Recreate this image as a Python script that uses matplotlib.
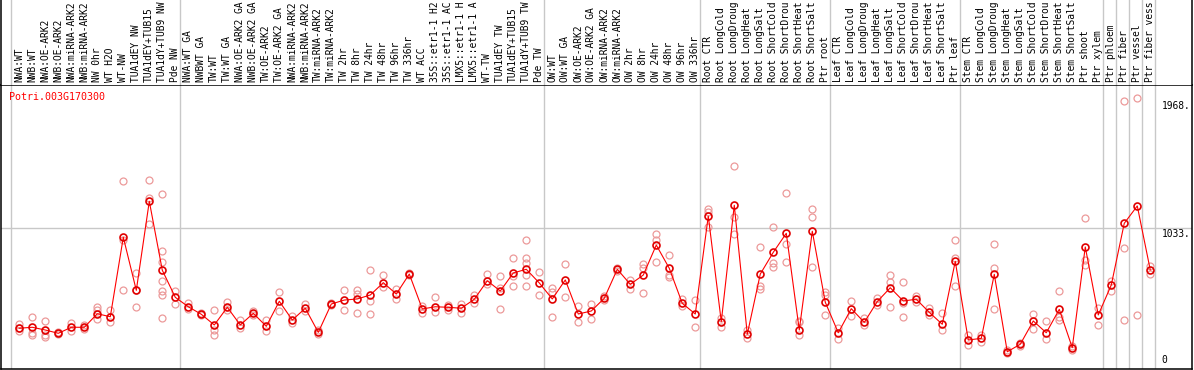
import matplotlib.pyplot as plt
import numpy as np

# sample labels (top strip), as far as they are visible
labels = [
    "NWA:WT", "NWB:WT", "NWA:OE-ARK2", "NWB:OE-ARK2", "NWA:miRNA-ARK2", "NWB:miRNA-ARK2",
    "NW 0hr", "WT H2O", "WT-NW", "TUA1dEY NW", "TUA1dEY+TUB15", "TUA1dY+TUB9 NW", "Pde NW",
    "NWA:WT GA", "NWBWT GA", "TW:WT", "TW:WT GA", "NWA:OE-ARK2 GA", "NWB:OE-ARK2 GA",
    "TW:OE-ARK2", "TW:OE-ARK2 GA", "NWA:miRNA-ARK2", "NWB:miRNA-ARK2", "TW:miRNA-ARK2",
    "TW:miRNA-ARK2", "TW 2hr", "TW 8hr", "TW 24hr", "TW 48hr", "TW 96hr", "TW 336hr",
    "WT ACC", "35S::etr1-1 H2", "35S::etr1-1 AC", "LMX5::etr1-1 H", "LMX5::etr1-1 A",
    "WT-TW", "TUA1dEY TW", "TUA1dEY+TUB15", "TUA1dY+TUB9 TW", "Pde TW",
    "OW:WT", "OW:WT GA", "OW:OE-ARK2", "OW:OE-ARK2 GA", "OW:miRNA-ARK2", "OW:miRNA-ARK2",
    "OW 2hr", "OW 8hr", "OW 24hr", "OW 48hr", "OW 96hr", "OW 336hr",
    "Root CTR", "Root LongCold", "Root LongDroug", "Root LongHeat", "Root LongSalt",
    "Root ShortCold", "Root ShortDrou", "Root ShortHeat", "Root ShortSalt", "Ptr root",
    "Leaf CTR", "Leaf LongCold", "Leaf LongDroug", "Leaf LongHeat", "Leaf LongSalt",
    "Leaf ShortCold", "Leaf ShortDrou", "Leaf ShortHeat", "Leaf ShortSalt", "Ptr leaf",
    "Stem CTR", "Stem LongCold", "Stem LongDroug", "Stem LongHeat", "Stem LongSalt",
    "Stem ShortCold", "Stem ShortDrou", "Stem ShortHeat", "Stem ShortSalt",
    "Ptr shoot", "Ptr xylem", "Ptr phloem", "Ptr fiber", "Ptr vessel", "Ptr fiber vess",
]

# mean expression per sample (red line)
means = [
    298, 305, 285, 261, 305, 305, 404, 382, 963, 575, 1226, 722, 524,
    455, 400, 322, 451, 322, 407, 312, 495, 358, 444, 268, 475, 504, 512, 541,
    631, 548, 694, 439, 455, 451, 444, 510, 645, 570, 702, 729, 629,
    512, 651, 402, 424, 517, 729, 619, 687, 906, 736, 480, 402,
    1118, 346, 1197, 254, 694, 853, 992, 285, 1007, 488,
    265, 441, 341, 493, 594, 497, 510, 414, 327, 787,
    212, 224, 692, 126, 181, 351, 265, 436, 156,
    892, 395, 614, 1065, 1192, 724,
]

# individual replicates (pink circles)
replicates = [
    [327, 280, 298], [378, 261, 249], [351, 249, 232], [255, 268], [334, 280], [322, 292],
    [455, 368, 431], [431, 341], [1374, 575, 943], [702, 451, 577], [1382, 1248, 1058],
    [1277, 860, 780, 641, 570, 543, 371], [570, 473],
    [480, 441], [409, 395], [429, 285, 249], [488, 431], [358, 298], [424, 395],
    [358, 280], [563, 424], [390, 334], [473, 424], [285, 256], [480, 468],
    [575, 429], [575, 548, 409], [722, 495, 400], [687, 602], [585, 510], [700, 690],
    [463, 412], [524, 419], [468, 431], [473, 407], [543, 480], [694, 621],
    [680, 594, 436], [811, 680, 605], [943, 811, 773, 687, 605], [709, 541],
    [594, 565, 378], [768, 524], [463, 341], [473, 368], [505, 530], [738, 716],
    [651, 585], [768, 736, 553], [985, 943, 780], [831, 687, 675], [510, 461], [504, 305],
    [1170, 1040, 1146], [371, 309], [1482, 1109, 985], [285, 224], [890, 607, 585],
    [1036, 773, 748], [1284, 912, 780], [341, 249, 351], [1170, 1113, 746], [565, 541, 393],
    [298, 217], [497, 387], [371, 322], [517, 468], [687, 638, 455], [636, 480, 382],
    [534, 492], [444, 395], [407, 285], [943, 814, 607],
    [249, 175], [249, 200], [914, 736, 439], [139, 117], [190, 168], [400, 290],
    [351, 217], [570, 382, 358], [168, 139],
    [1104, 797, 760], [444, 322], [643, 570], [1959, 882, 358], [1981, 393], [755, 692],
]

# last sample index of each group (gray separators)
group_ends = [12, 40, 52, 62, 72, 83, 84, 85, 86, 87]

gene = "Potri.003G170300"
ytick_vals = [1968, 1033, 0]
ytick_text = ["1968.", "1033.", "0"]

plt.rcParams['font.family'] = ['DejaVu Sans Mono']

W, H = 1194, 370
fig = plt.figure(figsize=(W / 100, H / 100), dpi=100)
ax = fig.add_axes([1 / W, 1 / H, 1191 / W, 284 / H])
lab = fig.add_axes([1 / W, 285 / H, 1191 / W, 85 / H])

x = np.arange(len(labels))
xlim = (-1.408, 90.21)
seps = [-0.66] + [e + 0.385 for e in group_ends]

# plot panel
ax.set_xlim(xlim)
ax.set_ylim(0, 2076)
ax.axhline(1033, color='#c8c8c8', lw=1.0, zorder=0)
for s in seps:
    ax.axvline(s, color='#c8c8c8', lw=1.0, zorder=0)

for i, vals in enumerate(replicates):
    ax.plot([x[i]] * len(vals), vals, 'o', ms=5.0, mfc='none', mec='#ec9a9a', mew=0.9, zorder=2)

ax.plot(x, means, '-', color='red', lw=0.8, zorder=3)
ax.plot(x, means, 'o', ms=5.0, mfc='none', mec='#e00000', mew=1.2, zorder=4)

ax.text(0.007, 0.976, gene, transform=ax.transAxes, color='red', fontsize=7.2,
        ha='left', va='top')

ytr = ax.get_yaxis_transform()
for v, t in zip(ytick_vals, ytick_text):
    if v == 0:
        ax.annotate(t, xy=(0.9745, v), xycoords=ytr, xytext=(0, 3), textcoords='offset points',
                    fontsize=6.9, ha='left', va='bottom')
    else:
        ax.annotate(t, xy=(0.9745, v), xycoords=ytr, xytext=(0, -1.2), textcoords='offset points',
                    fontsize=6.9, ha='left', va='top')

ax.set_xticks([])
ax.set_yticks([])
for sp in ax.spines.values():
    sp.set_linewidth(1.1)
    sp.set_color('black')

# label strip
lab.set_xlim(xlim)
lab.set_ylim(0, 1)
for s in seps:
    lab.axvline(s, color='#c8c8c8', lw=1.0, zorder=0)
for i, name in enumerate(labels):
    lab.text(x[i], 0.035, name, rotation=90, ha='center', va='bottom', fontsize=6.95)
lab.set_xticks([])
lab.set_yticks([])
lab.spines['top'].set_visible(False)
lab.spines['bottom'].set_visible(False)
for k in ['left', 'right']:
    lab.spines[k].set_linewidth(1.1)

fig.savefig("out.png", dpi=100)
plt.close()
